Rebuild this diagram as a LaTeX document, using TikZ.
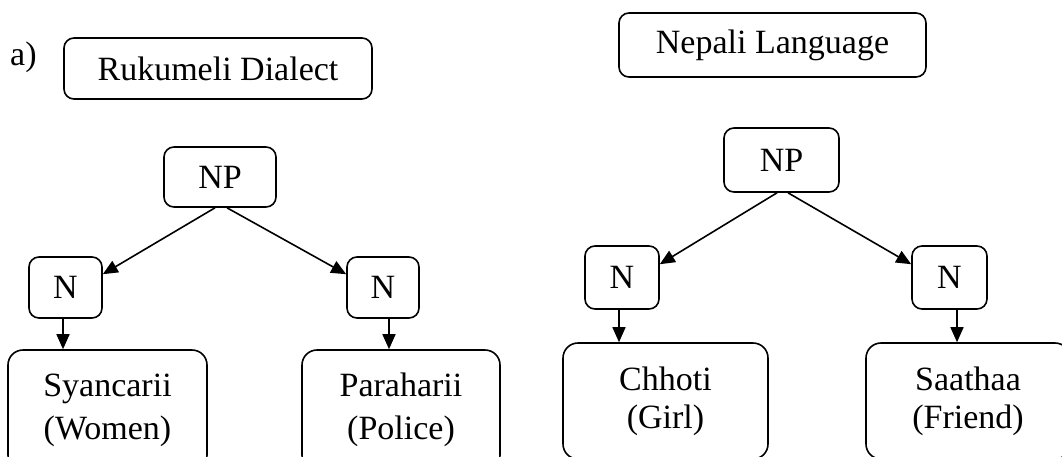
\documentclass[tikz,border=0pt]{standalone}
\usepackage{fontspec}
\setmainfont{Liberation Serif}
\usetikzlibrary{arrows.meta}
\begin{document}
\begin{tikzpicture}[x=1pt,y=-1pt,
  txt/.style={font=\fontsize{34}{40}\selectfont},
  box/.style={draw, line width=1.6pt, rounded corners=10pt, inner sep=0pt, txt},
  leaf/.style={box, rounded corners=15pt, align=center},
  arr/.style={line width=1.6pt, -{Triangle[length=15pt,width=13pt]}},
]
\useasboundingbox (0,0) rectangle (1062,456);
\clip (0,0) rectangle (1062,456);

% part label
\node[txt, anchor=base west, inner sep=0pt] (lbl) at (10,65) {a)};

% ---- Rukumeli dialect tree ----
\node[box, minimum width=308pt, minimum height=61pt] (rtitle) at (218,68.5) {Rukumeli Dialect};
\node[box, minimum width=112pt, minimum height=60pt] (rnp) at (220,177) {NP};
\node[box, minimum width=73pt, minimum height=61pt] (rnl) at (65.5,287.5) {N};
\node[box, minimum width=72pt, minimum height=61pt] (rnr) at (383,287.5) {N};
\node[leaf, font=\fontsize{34}{43}\selectfont, minimum width=199pt, minimum height=120pt] (rwl) at (107.5,410) {Syancarii\\(Women)};
\node[leaf, font=\fontsize{34}{43}\selectfont, minimum width=198pt, minimum height=120pt] (rwr) at (401,410) {Paraharii\\(Police)};

\draw[arr] ([xshift=-5pt]rnp.south) -- ([yshift=-18pt]rnl.north east);
\draw[arr] ([xshift=7pt]rnp.south) -- ([yshift=-18pt]rnr.north west);
\draw[arr] ([xshift=-2.5pt]rnl.south) -- ([xshift=-2.5pt]rnl.south |- rwl.north);
\draw[arr] ([xshift=6pt]rnr.south) -- ([xshift=6pt]rnr.south |- rwr.north);

% ---- Nepali language tree ----
\node[box, minimum width=307pt, minimum height=64pt] (ntitle) at (772.5,45) {Nepali Language};
\node[box, minimum width=115pt, minimum height=64pt] (nnp) at (781.5,160) {NP};
\node[box, minimum width=74pt, minimum height=63pt] (nnl) at (622,277.5) {N};
\node[box, minimum width=75pt, minimum height=63pt] (nnr) at (949.5,277.5) {N};
\node[leaf, font=\fontsize{34}{38}\selectfont, minimum width=205pt, minimum height=116pt] (nwl) at (665.5,401) {Chhoti\\(Girl)};
\node[leaf, font=\fontsize{34}{38}\selectfont, minimum width=204pt, minimum height=116pt] (nwr) at (968,401) {Saathaa\\(Friend)};

\draw[arr] ([xshift=-4.5pt]nnp.south) -- ([yshift=-19pt]nnl.north east);
\draw[arr] ([xshift=6.5pt]nnp.south) -- ([yshift=-19pt]nnr.north west);
\draw[arr] ([xshift=-3pt]nnl.south) -- ([xshift=-3pt]nnl.south |- nwl.north);
\draw[arr] ([xshift=7.5pt]nnr.south) -- ([xshift=7.5pt]nnr.south |- nwr.north);
\end{tikzpicture}
\end{document}
